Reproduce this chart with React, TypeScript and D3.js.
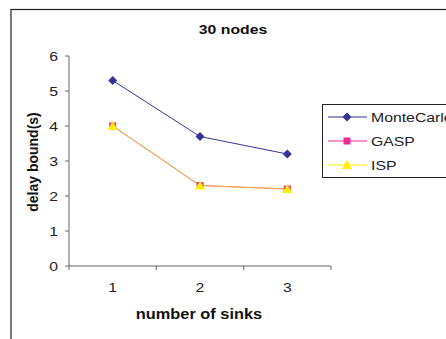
import React from "react";
import * as d3 from "d3";

const layout = { width: 446, height: 339 };

const sinks = ["1", "2", "3"];
const monteCarlo = [5.3, 3.7, 3.2];
const gasp = [4.0, 2.3, 2.2];
const isp = [4.0, 2.3, 2.2];
const yTicks = [0, 1, 2, 3, 4, 5, 6];

const seriesNames = ["MonteCarlo", "GASP", "ISP"];
const seriesColours: Record<string, string> = {
  MonteCarlo: "#333399",
  GASP: "#ee2a95",
  ISP: "#ffee00"
};

const font = "Liberation Sans, Arial, sans-serif";
const stretch = 1.17;

// text drawn a bit wider than tall, like the original scan
const Label = ({ x, y, anchor = "start", bold = false, size = 13.5, children }: any) => (
  <text
    transform={`translate(${x},${y}) scale(${stretch},1)`}
    textAnchor={anchor}
    fontFamily={font}
    fontWeight={bold ? "bold" : "normal"}
    fontSize={size}
    fill={bold ? "#111" : "#222"}
  >
    {children}
  </text>
);

const Marker = ({ name, x, y }: { name: string; x: number; y: number }) => {
  const c = seriesColours[name];
  if (name === "MonteCarlo") {
    return <path d={`M${x},${y - 4.5}L${x + 4.5},${y}L${x},${y + 4.5}L${x - 4.5},${y}Z`} fill={c} />;
  }
  if (name === "GASP") {
    return <rect x={x - 3.5} y={y - 3.5} width={7} height={7} fill={c} />;
  }
  return <path d={`M${x},${y - 5}L${x + 5},${y + 4}L${x - 5},${y + 4}Z`} fill={c} />;
};

export default function App() {
  const xScale = d3.scaleBand().domain(sinks).range([69, 331]);
  const yScale = d3.scaleLinear().domain([0, 6]).range([266, 56]);
  const cx = (s: string) => (xScale(s) as number) + xScale.bandwidth() / 2;

  const line = d3
    .line<number>()
    .x((d, i) => cx(sinks[i]))
    .y(d => yScale(d));

  const data: Record<string, number[]> = { MonteCarlo: monteCarlo, GASP: gasp, ISP: isp };
  const xEdges = [...sinks.map(s => xScale(s) as number), 331];

  return (
    <svg
      width={layout.width}
      height={layout.height}
      style={{ position: "absolute", left: 0, top: 0, background: "#fff" }}
    >
      <rect x={11} y={9.5} width={460} height={360} fill="none" stroke="#222" strokeWidth={1.2} />
      <Label x={233} y={34} anchor="middle" bold size={13.5}>
        30 nodes
      </Label>

      {/* y axis */}
      <line x1={69} x2={69} y1={56} y2={266} stroke="#666" />
      {yTicks.map(t => (
        <g key={t}>
          <line x1={65} x2={69} y1={yScale(t)} y2={yScale(t)} stroke="#666" />
          <Label x={58} y={yScale(t) + 4.5} anchor="end">
            {t}
          </Label>
        </g>
      ))}

      {/* x axis */}
      <line x1={69} x2={331} y1={266} y2={266} stroke="#666" />
      {xEdges.map((e, i) => (
        <line key={i} x1={e} x2={e} y1={266} y2={270} stroke="#666" />
      ))}
      {sinks.map(s => (
        <Label key={s} x={cx(s)} y={292} anchor="middle">
          {s}
        </Label>
      ))}

      <Label x={199} y={319} anchor="middle" bold size={14}>
        number of sinks
      </Label>
      <text
        transform="translate(38,162) rotate(-90)"
        textAnchor="middle"
        fontFamily={font}
        fontWeight="bold"
        fontSize={14}
        fill="#111"
      >
        delay bound(s)
      </text>

      {/* lines */}
      {seriesNames.map(name => (
        <path
          key={name}
          d={line(data[name]) as string}
          fill="none"
          stroke={seriesColours[name]}
          strokeOpacity={name === "ISP" ? 0.65 : 1}
          strokeWidth={1}
        />
      ))}
      {seriesNames.map(name =>
        data[name].map((v, i) => <Marker key={name + i} name={name} x={cx(sinks[i])} y={yScale(v)} />)
      )}

      {/* legend */}
      <rect x={322.5} y={104.5} width={140} height={73} fill="#fff" stroke="#222" />
      {seriesNames.map((name, i) => {
        const y = 117 + i * 24;
        return (
          <g key={name}>
            <line x1={328} x2={367} y1={y} y2={y} stroke={seriesColours[name]} />
            <Marker name={name} x={347} y={y} />
            <Label x={371} y={y + 5}>
              {name}
            </Label>
          </g>
        );
      })}
    </svg>
  );
}
